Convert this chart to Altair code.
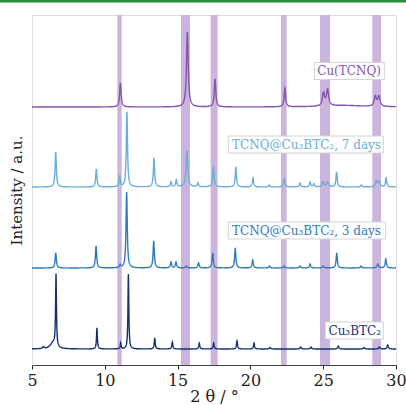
import altair as alt
import numpy as np
import pandas as pd

# ---- data ----
series_names = ["Cu(TCNQ)", "TCNQ@Cu₃BTC₂, 7 days", "TCNQ@Cu₃BTC₂, 3 days", "Cu₃BTC₂"]
series_colors = ["#8554ac", "#6baed6", "#2f7bbd", "#14336e"]
baselines = [258, 178, 97, 16]

# peak positions (2θ), heights (a.u.), widths (FWHM, °)
cutcnq_pos = [11.07, 15.67, 17.57, 22.37, 25.02, 25.30, 28.58, 28.83, 26.5]
cutcnq_h = [24, 75, 28, 19, 13, 16, 10, 10, 1.5]
cutcnq_w = [0.12, 0.14, 0.12, 0.12, 0.18, 0.18, 0.18, 0.18, 3.0]

d7_pos = [6.63, 9.42, 11.02, 11.52, 13.38, 14.55, 14.91, 15.64, 16.40, 17.46, 19.00, 20.18,
          21.30, 22.33, 23.40, 24.10, 24.35, 25.00, 25.30, 25.92, 27.62, 28.66, 28.85, 29.32]
d7_h = [35, 18, 10, 75, 29, 5, 7, 36, 4, 19, 20, 9, 2, 8, 4, 5, 3, 5, 5, 15, 2, 6, 5, 9]
d7_w = [0.1, 0.1, 0.1, 0.1, 0.1, 0.1, 0.1, 0.14, 0.1, 0.12, 0.1, 0.1,
        0.1, 0.12, 0.1, 0.1, 0.1, 0.15, 0.15, 0.1, 0.1, 0.15, 0.15, 0.1]

d3_pos = [6.63, 9.40, 11.05, 11.50, 13.36, 14.55, 14.89, 15.60, 16.44, 17.41, 18.96, 20.16,
          21.30, 22.30, 23.40, 24.10, 25.00, 25.93, 27.60, 28.75, 29.30]
d3_h = [15, 22, 3, 76, 27, 6, 6, 2, 5, 15, 20, 8, 2, 2, 2, 4, 2, 15, 2, 4, 9]
d3_w = [0.1, 0.1, 0.1, 0.1, 0.1, 0.1, 0.1, 0.12, 0.1, 0.1, 0.1, 0.1,
        0.1, 0.1, 0.1, 0.1, 0.12, 0.1, 0.1, 0.12, 0.1]

cu3_pos = [5.78, 6.45, 6.65, 9.46, 11.09, 11.62, 13.43, 14.64, 16.49, 17.48, 19.08, 20.25,
           21.35, 23.45, 24.16, 26.04, 27.80, 28.86, 29.43]
cu3_h = [2, 6, 72, 21, 6, 75, 11, 7, 6, 6, 8, 6, 1.5, 2, 2, 3, 1.5, 2, 4]
cu3_w = [0.1, 0.45, 0.07, 0.07, 0.07, 0.07, 0.08, 0.08, 0.08, 0.08, 0.08, 0.08,
         0.1, 0.1, 0.1, 0.1, 0.1, 0.1, 0.1]

band_lo = [10.86, 15.23, 17.27, 22.10, 24.78, 28.37]
band_hi = [11.16, 15.85, 17.75, 22.49, 25.47, 28.97]

# label boxes / text anchors (2θ, a.u.)
label_text_x = [28.97, 28.97, 28.97, 28.97]
label_text_y = [290, 216, 130, 30]
box_x1 = [24.39, 18.48, 18.48, 25.14]
box_x2 = [29.20, 29.13, 29.29, 29.13]
box_y1 = [285.5, 212, 126, 26]
box_y2 = [302.5, 229, 143, 43]

x_ticks = [5, 10, 15, 20, 25, 30]

# ---- build traces from the peak lists ----
grid = np.round(np.arange(5.0, 30.0001, 0.01), 3)
peak_sets = [(cutcnq_pos, cutcnq_h, cutcnq_w), (d7_pos, d7_h, d7_w),
             (d3_pos, d3_h, d3_w), (cu3_pos, cu3_h, cu3_w)]
frames = []
for name, base, (pos, hh, ww) in zip(series_names, baselines, peak_sets):
    y = np.full_like(grid, float(base))
    for p, h, w in zip(pos, hh, ww):
        y += h / (1 + ((grid - p) / (w / 2)) ** 2)
    frames.append(pd.DataFrame({"x": grid, "y": y, "s": name}))
df = pd.concat(frames, ignore_index=True)

bands = pd.DataFrame({"lo": band_lo, "hi": band_hi})
labels = pd.DataFrame({"t": series_names, "x": label_text_x, "y": label_text_y,
                       "bx1": box_x1, "bx2": box_x2, "by1": box_y1, "by2": box_y2,
                       "c": series_colors})

FONT = "DejaVu Serif"
xs = alt.Scale(domain=[5, 30], nice=False)
ys = alt.Scale(domain=[0, 350], nice=False, zero=False)

band_layer = alt.Chart(bands).mark_rect(color="#cbb5dc").encode(
    x=alt.X("lo:Q", scale=xs, axis=alt.Axis(values=x_ticks, title="2 θ / °", grid=False,
            labelFont=FONT, titleFont=FONT, labelFontSize=16, titleFontSize=16,
            titleFontWeight="normal", labelColor="#222", titleColor="#222",
            tickColor="#222", domainColor="#444", tickSize=4, labelPadding=3, titlePadding=0,
            labelFlush=False)),
    x2="hi:Q",
    y=alt.value(0), y2=alt.value(350),
)

line_layer = alt.Chart(df).mark_line(strokeWidth=1.4, clip=True).encode(
    x=alt.X("x:Q", scale=xs),
    y=alt.Y("y:Q", scale=ys, axis=alt.Axis(title="Intensity / a.u.", labels=False, ticks=False,
            grid=False, domain=False, titleFont=FONT, titleFontSize=15, titleFontWeight="normal",
            titleColor="#222", titlePadding=8)),
    color=alt.Color("s:N", scale=alt.Scale(domain=series_names, range=series_colors), legend=None),
    detail="s:N",
)

box_layer = alt.Chart(labels).mark_rect(fill="white", stroke="#d4d4d4", strokeWidth=1).encode(
    x=alt.X("bx1:Q", scale=xs), x2="bx2:Q",
    y=alt.Y("by1:Q", scale=ys), y2="by2:Q",
)

text_layer = alt.Chart(labels).mark_text(align="right", baseline="alphabetic", font=FONT,
                                          fontSize=12).encode(
    x=alt.X("x:Q", scale=xs), y=alt.Y("y:Q", scale=ys),
    text="t:N",
    color=alt.Color("c:N", scale=None),
)

green = alt.Chart(pd.DataFrame({"a": [0]})).mark_rule(color="#2b8a3a", strokeWidth=3, clip=False).encode(
    x=alt.value(-40), x2=alt.value(380), y=alt.value(-14), y2=alt.value(-14)
)

chart = alt.layer(band_layer, line_layer, box_layer, text_layer, green).properties(
    width=364, height=350,
    autosize=alt.AutoSizeParams(type="none"),
    padding={"left": 32, "top": 15, "right": 10, "bottom": 40},
).configure_view(stroke="#444", strokeWidth=1).configure(background="white")

chart.save("out.html", embed_options={"renderer": "svg", "actions": False})
